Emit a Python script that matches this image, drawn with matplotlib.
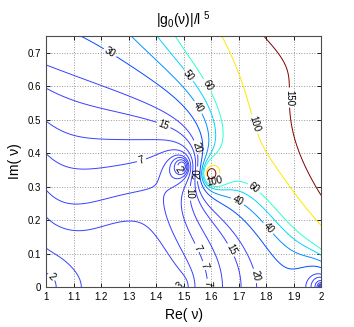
import numpy as np
import matplotlib
matplotlib.use("Agg")
import matplotlib.pyplot as plt

plt.rcParams["font.family"] = ["Liberation Sans", "DejaVu Sans"]
plt.rcParams["mathtext.fontset"] = "custom"
plt.rcParams["mathtext.rm"] = "Liberation Sans"
plt.rcParams["mathtext.it"] = "Liberation Sans"

# contour levels of |g0(nu)|/l^5
levels = [2, 3, 4, 5, 7, 10, 15, 20, 30, 40, 50, 60, 100, 150]

# zeros / poles seen in the picture (Re, Im, order)
zero_re = [1.495, 1.0, 1.493, 2.0]
zero_im = [0.36, 0.0, 0.0, 0.0]
zero_pow = [1.0, 0.37, 0.15, 1.0]
pole_re = [1.599]
pole_im = [0.338]
pole_pow = [1.0]

# values (Re, Im, value, weight)
read_x = [1, 1, 1, 1, 1, 1, 1, 1, 1,
          1.10, 1.29, 1.40, 1.475, 1.645, 1.767, 2.0,
          2, 2, 2, 2, 2, 2, 2,
          1.03, 1.11, 1.3, 1.56, 1.597, 1.62, 1.657, 1.70, 1.75, 1.85, 1.92,
          1.233, 1.425, 1.35, 1.53, 1.56, 1.60, 1.778, 1.825, 1.858, 1.94,
          1.705, 1.76, 1.80, 1.67, 1.74, 1.53, 1.596, 1.51, 1.54, 1.3,
          1.45, 1.45, 1.3, 1.2,
          1.2, 1.4, 1.2, 1.35, 1.2, 1.4, 1.2, 1.2, 1.4, 1.4,
          1.85, 1.85, 1.7, 1.9, 1.78, 1.65, 1.72, 1.9, 1.95]
read_y = [0.04, 0.105, 0.245, 0.33, 0.40, 0.475, 0.58, 0.66, 0.75,
          0.75, 0.75, 0.75, 0.75, 0.75, 0.75, 0.75,
          0.5, 0.273, 0.178, 0.11, 0.095, 0.08, 0.06,
          0, 0, 0, 0, 0, 0, 0, 0, 0, 0, 0,
          0.70, 0.48, 0.37, 0.64, 0.54, 0.608, 0.492, 0.408, 0.566, 0.38,
          0.27, 0.30, 0.17, 0.11, 0.03, 0.11, 0.07, 0.28, 0.416, 0.16,
          0.1, 0.2, 0.44, 0.62,
          0.36, 0.37, 0.31, 0.27, 0.20, 0.11, 0.46, 0.54, 0.49, 0.53,
          0.22, 0.25, 0.22, 0.1, 0.12, 0.2, 0.1, 0.3, 0.23]
read_f = [2, 3, 4, 5, 7, 10, 15, 20, 26,
          30, 40, 50, 60, 100, 150, 230,
          190, 150, 100, 60, 50, 40, 30,
          2, 3, 3.6, 4, 5, 7, 10, 15, 20, 25, 25,
          30, 15, 7, 50, 40, 60, 100, 100, 150, 150,
          50, 60, 40, 15, 20, 5, 7, 10, 20, 4,
          4, 5, 10, 20,
          7, 7, 5, 5, 4, 4, 10, 15, 15, 20,
          60, 60, 40, 40, 30, 20, 20, 100, 100]
read_w = [1] * 16 + [3] * 7 + [1] * 9 + [3] * 2 + [1] * 34 + [2] * 9

# contour label spots
label_spots = [(1.233, 0.70), (1.425, 0.48), (1.35, 0.37), (1.53, 0.64),
               (1.60, 0.608), (1.56, 0.54), (1.858, 0.566), (1.778, 0.492),
               (1.54, 0.416), (1.76, 0.30), (1.705, 0.27), (1.80, 0.17),
               (1.67, 0.11), (1.74, 0.03), (1.51, 0.28), (1.53, 0.11),
               (1.596, 0.07), (1.02, 0.03), (1.47, 0.014), (1.57, 0.01),
               (1.48, 0.35), (1.553, 0.338), (1.61, 0.32)]


def singular(x, y):
    s = np.zeros_like(x, dtype=float)
    for re, im, w in zip(zero_re, zero_im, zero_pow):
        if im == 0:
            s += w * 0.5 * np.log((x - re) ** 2 + y ** 2 + 1e-12)
        else:
            s += w * 0.5 * np.log((x - re) ** 2 + (y - im) ** 2 + 1e-12)
            s += w * 0.5 * np.log((x - re) ** 2 + (y + im) ** 2)
    for re, im, w in zip(pole_re, pole_im, pole_pow):
        s -= w * 0.5 * np.log((x - re) ** 2 + (y - im) ** 2 + 1e-12)
        s -= w * 0.5 * np.log((x - re) ** 2 + (y + im) ** 2)
    return s


def basis(x, y):
    u = (x - 1.5) * 2
    v = (y / 0.75) ** 2
    return np.stack([u ** i * v ** j for i in range(6) for j in range(4)
                     if i + j <= 6], axis=-1)


rx = np.array(read_x, float)
ry = np.array(read_y, float)
w = np.array(read_w, float)
rhs = (np.log(np.array(read_f, float)) - singular(rx, ry)) * w
A = basis(rx, ry) * w[:, None]
# a little ridge keeps the fit smooth between readings
lam = 3e-3
coef = np.linalg.solve(A.T @ A + lam * np.eye(A.shape[1]), A.T @ rhs)

X, Y = np.meshgrid(np.linspace(1, 2, 501), np.linspace(0, 0.75, 376))
Z = np.exp(basis(X, Y) @ coef + singular(X, Y))

cmap = plt.get_cmap("jet")
colors = [cmap(l / 150) if l >= 30 else (0.22, 0.25, 1.0) for l in levels]

fig = plt.figure(figsize=(3.54, 3.27), dpi=100)
ax = fig.add_axes([0.130, 0.122, 0.777, 0.768])
cs = ax.contour(X, Y, Z, levels=levels, colors=colors, linewidths=0.7)
ax.clabel(cs, fontsize=7, inline=True, inline_spacing=2, fmt="%g",
          manual=label_spots, colors="k")

ax.set_xlim(1, 2)
ax.set_ylim(0, 0.75)
ax.set_xticks(np.arange(1, 2.01, 0.1))
ax.set_xticklabels(["1", "1.1", "1.2", "1.3", "1.4", "1.5", "1.6", "1.7", "1.8", "1.9", "2"])
ax.set_yticks(np.arange(0, 0.71, 0.1))
ax.set_yticklabels(["0", "0.1", "0.2", "0.3", "0.4", "0.5", "0.6", "0.7"])
ax.tick_params(direction="in", top=True, right=True, labelsize=7, length=3, width=0.6)
ax.grid(True, linestyle=":", color="0.6", linewidth=0.7)
for s in ax.spines.values():
    s.set_linewidth(0.8)
    s.set_color("0.3")

ax.set_xlabel("Re( ν)", fontsize=10, labelpad=4)
ax.set_ylabel("Im( ν)", fontsize=10, labelpad=4)
ax.set_title(r"|g$_0$(ν)|/l $^{5}$", fontsize=10, pad=8)

fig.savefig("out.png", dpi=100)
